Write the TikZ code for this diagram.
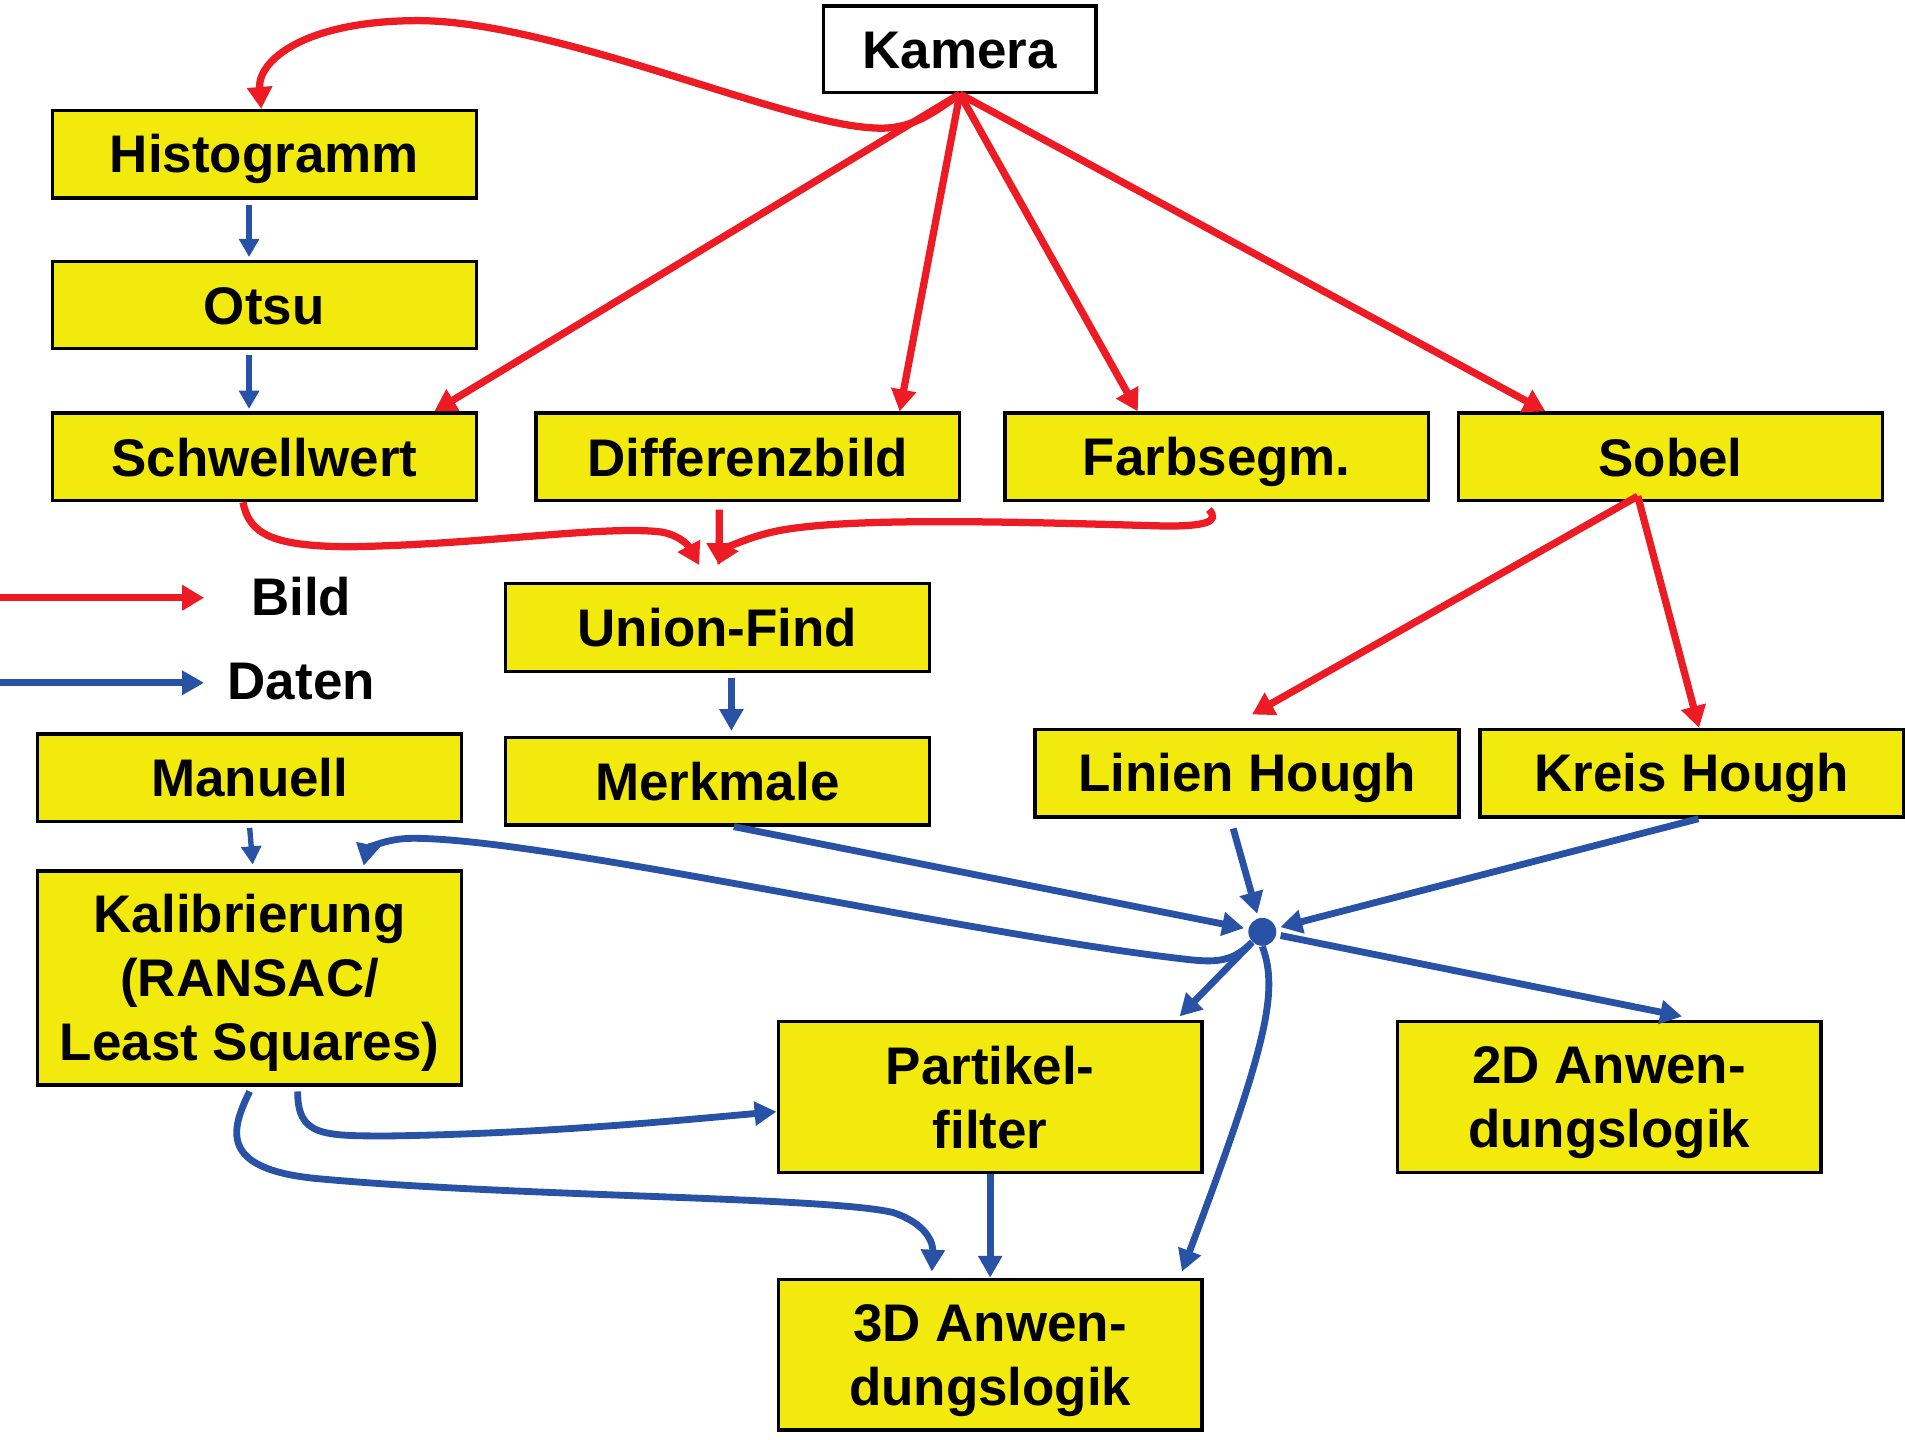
\documentclass[tikz,border=0pt]{standalone}
\usepackage{fontspec}
\setmainfont{Liberation Sans}
\usetikzlibrary{arrows.meta}
\definecolor{bildred}{RGB}{237,28,36}
\definecolor{datenblue}{RGB}{40,82,165}
\definecolor{boxyellow}{RGB}{242,234,12}
\newcommand{\boxstrut}{\rule[-0.16cm]{0pt}{0.96cm}}
\tikzset{
  box/.style={draw,fill=boxyellow,line width=1.6pt,minimum width=6.98cm,minimum height=1.44cm,
    inner sep=0pt,align=center,font=\fontsize{24.8}{30}\selectfont\bfseries,
    execute at end node=\boxstrut},
  bild/.style={bildred,line width=3.4pt,-{Triangle[length=0.36cm,width=0.4cm]}},
  daten/.style={datenblue,line width=3.2pt,-{Triangle[length=0.36cm,width=0.38cm]}},
  datenthin/.style={datenblue,line width=2.5pt,-{Triangle[length=0.3cm,width=0.32cm]}}
}
\begin{document}
\begin{tikzpicture}[x=0.02cm,y=-0.02cm]
    \useasboundingbox (0,0) rectangle (1568,1185);
    % boxes
    \node[box,fill=white,minimum width=4.48cm,minimum height=1.42cm] (kamera) at (790,40.5) {Kamera};
    \node[box] (hist) at (217.5,127) {Histogramm};
    \node[box] (otsu) at (217.5,251) {Otsu};
    \node[box] (schwell) at (217.5,376) {Schwellwert};
    \node[box] (diff) at (615.5,376) {Differenzbild};
    \node[box] (farb) at (1001.5,376) {Farbsegm.};
    \node[box] (sobel) at (1375,376) {Sobel};
    \node[box] (union) at (590.5,516.5) {Union-Find};
    \node[box] (merk) at (590.5,643) {Merkmale};
    \node[box] (manuell) at (205.5,640) {Manuell};
    \node[box,minimum height=3.52cm] (kalib) at (205.5,805) {\boxstrut Kalibrierung\\(RANSAC/\\Least Squares)};
    \node[box] (linien) at (1026.5,636.5) {Linien Hough};
    \node[box] (kreis) at (1392.5,636.5) {Kreis Hough};
    \node[box,minimum height=2.48cm] (part) at (815,903) {\boxstrut Partikel-\\filter};
    \node[box,minimum height=2.48cm] (twod) at (1324.5,903) {\boxstrut 2D Anwen-\\dungslogik};
    \node[box,minimum height=2.48cm] (threed) at (815,1115) {\boxstrut 3D Anwen-\\dungslogik};
    \node[circle,fill=datenblue,inner sep=0pt,minimum size=0.46cm] (dot) at (1039,767) {};
    % legend
    \coordinate (bildA) at (0,492);
    \coordinate (bildB) at (168,492);
    \coordinate (datenA) at (0,562);
    \coordinate (datenB) at (168,562);
    \draw[bild] (bildA) -- (bildB);
    \draw[daten] (datenA) -- (datenB);
    \node[font=\fontsize{24.8}{30}\selectfont\bfseries] (bildtxt) at (248,491) {Bild};
    \node[font=\fontsize{24.8}{30}\selectfont\bfseries] (datentxt) at (248,561) {Daten};
    % image paths
    \draw[bild] (kamera.south) .. controls (762,98) and (745,108) .. (715,105)
        .. controls (640,100) and (450,15) .. (340,17)
        .. controls (250,18) and (212,50) .. ([xshift=-0.05cm]hist.north);
    \draw[bild] (kamera.south) -- ([xshift=2.8cm]schwell.north);
    \draw[bild] (kamera.south) -- ([xshift=2.5cm]diff.north);
    \draw[bild] (kamera.south) -- ([xshift=-1.3cm]farb.north);
    \draw[bild] (kamera.south) -- ([xshift=-2.06cm]sobel.north);
    \draw[bild] ([xshift=-0.54cm,yshift=0.1cm]sobel.south) -- ([xshift=0.08cm,yshift=0.22cm]linien.north);
    \draw[bild] ([xshift=-0.54cm,yshift=0.1cm]sobel.south) -- ([xshift=0.12cm]kreis.north);
    \draw[bild] ([xshift=-0.35cm]schwell.south) .. controls (205,440) and (225,450) .. (290,450)
        .. controls (400,448) and (500,432) .. (545,438)
        .. controls (565,442) and (570,455) .. ([xshift=-0.3cm,yshift=0.28cm]union.north);
    \draw[bild] ([xshift=-0.47cm,yshift=-0.12cm]diff.south) -- ([xshift=0.03cm,yshift=0.28cm]union.north);
    \draw[bild] ([xshift=-0.13cm,yshift=-0.12cm]farb.south) .. controls (1005,430) and (990,433) .. (960,433)
        .. controls (850,430) and (700,425) .. (640,437)
        .. controls (615,442) and (597,452) .. ([xshift=0cm,yshift=0.28cm]union.north);
    % data paths
    \draw[datenthin] ([xshift=-0.25cm,yshift=-0.08cm]hist.south) -- ([xshift=-0.25cm,yshift=0.04cm]otsu.north);
    \draw[datenthin] ([xshift=-0.25cm,yshift=-0.08cm]otsu.south) -- ([xshift=-0.25cm,yshift=0.04cm]schwell.north);
    \draw[daten] ([xshift=0.23cm,yshift=-0.08cm]union.south) -- ([xshift=0.23cm,yshift=0.08cm]merk.north);
    \draw[datenthin] ([yshift=-0.08cm]manuell.south) -- ([xshift=0.05cm,yshift=0.08cm]kalib.north);
    \draw[daten,shorten >=2pt] ([xshift=0.27cm]merk.south) -- (dot);
    \draw[daten,shorten >=2pt] ([xshift=-0.23cm,yshift=-0.16cm]linien.south) -- (dot);
    \draw[daten,shorten >=2pt] ([xshift=0.11cm]kreis.south) -- (dot);
    \draw[daten,shorten <=2pt] (dot) -- ([xshift=1.2cm,yshift=0.06cm]twod.north);
    \draw[daten,shorten <=2pt] (dot) -- ([xshift=-0.4cm,yshift=0.06cm]part.north east);
    \draw[daten] (dot.south) .. controls (1052,815) and (1045,855) .. ([xshift=-0.36cm,yshift=0.1cm]threed.north east);
    \draw[daten] (dot.south west) .. controls (1015,792) and (1000,792) .. (980,790)
        .. controls (800,770) and (450,690) .. (340,690)
        .. controls (315,690) and (302,700) .. ([xshift=-1.64cm,yshift=0.06cm]kalib.north east);
    \draw[daten] ([xshift=0.79cm,yshift=-0.08cm]kalib.south) .. controls (245,935) and (265,935) .. (320,935)
        .. controls (450,933) and (560,922) .. ([yshift=-0.24cm]part.west);
    \draw[daten] ([yshift=-0.08cm]kalib.south) .. controls (190,930) and (180,962) .. (260,970)
        .. controls (420,985) and (680,985) .. (735,998)
        .. controls (765,1008) and (768,1025) .. ([xshift=-0.96cm,yshift=0.1cm]threed.north);
    \draw[daten] (part.south) -- (threed.north);
\end{tikzpicture}
\end{document}
